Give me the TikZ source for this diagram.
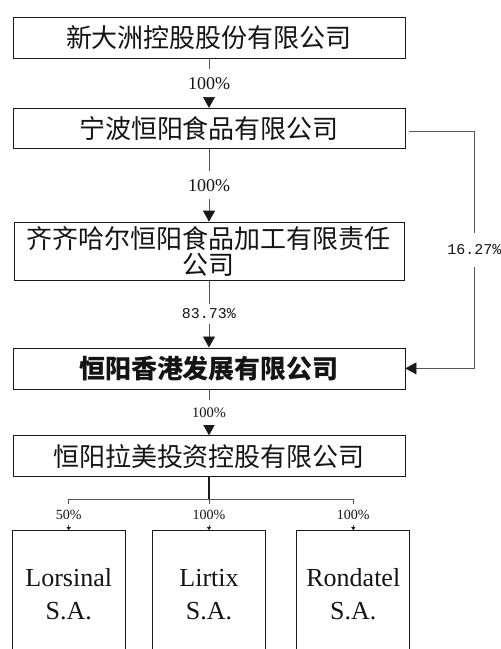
\documentclass[tikz,border=0pt]{standalone}
\usepackage{fontspec}
\setmainfont{Liberation Serif}
\setmonofont{Liberation Mono}
\newfontfamily\cjk{Noto Sans CJK SC}
\usetikzlibrary{positioning,arrows.meta}
\definecolor{colorbox}  {RGB}{25,25,25}
\definecolor{colorline} {RGB}{85,85,85}
\definecolor{colortext} {RGB}{20,20,20}

\begin{document}
\begin{tikzpicture}[
    node distance = 2em,
    base/.style={draw=colorbox,line width=0.8pt,text=colortext,inner sep=0pt,align=center,rectangle},
    company/.style={base,minimum width=392pt,minimum height=41pt,font={\cjk\fontsize{26}{26}\selectfont}},
    firm/.style={base,minimum width=113pt,minimum height=128pt,font={\fontsize{26}{33}\selectfont}},
    pct/.style={fill=white,text=colortext,inner xsep=1pt,inner ysep=8pt,font={\fontsize{18}{18}\selectfont}},
    pctsmall/.style={pct,inner ysep=6pt,font={\fontsize{14}{14}\selectfont}},
    pctmono/.style={pct,inner ysep=5pt,font={\ttfamily\fontsize{15}{15}\selectfont}},
    link/.style={draw=colorline,line width=0.8pt,-{Triangle[width=12pt,length=11pt,color=colorbox]}},
    sublink/.style={draw=colorline,line width=0.8pt,-{Triangle[width=4pt,length=3pt,color=colorbox]}},
]
    \useasboundingbox (0,0) rectangle (501pt,-649pt);
    \clip (0,0) rectangle (501pt,-649pt);

    % Nodes
    \node[company] (xdz) at (209pt,-37.5pt) {新大洲控股股份有限公司};
    \node[company,minimum height=40pt,below=49.5pt of xdz] (nbhy) {宁波恒阳食品有限公司};
    \node[company,minimum width=390pt,minimum height=58pt,below=73pt of nbhy] (qqhe) {齐齐哈尔恒阳食品加工有限责任\\公司};
    \node[company,font={\cjk\bfseries\fontsize{26}{26}\selectfont},below=67pt of qqhe] (hyxg) {恒阳香港发展有限公司};
    \node[company,below=46pt of hyxg] (hylm) {恒阳拉美投资控股有限公司};
    \node[firm,below=53pt of hylm]      (lirtix)   {Lirtix\\S.A.};
    \node[firm,left=26.5pt of lirtix]   (lorsinal) {Lorsinal\\S.A.};
    \node[firm,right=30.5pt of lirtix]  (rondatel) {Rondatel\\S.A.};

    % Coordinates
    \coordinate[below=22pt of hylm] (fork);

    % Arrows
    \draw[link] (xdz)  -- node[pct]{100\%} (nbhy);
    \draw[link] (nbhy) -- node[pct]{100\%} (qqhe);
    \draw[link] (qqhe) -- node[pctmono]{83.73\%} (hyxg);
    \draw[link] (hyxg) -- node[pctsmall,inner ysep=7.5pt,font={\fontsize{14.5}{14.5}\selectfont}]{100\%} (hylm);
    \draw[link] ([xshift=4pt,yshift=-3pt]nbhy.east) -- ++(65pt,0) coordinate (bend)
        -- node[pctmono,inner ysep=12pt]{16.27\%} (bend |- hyxg.east) -- (hyxg.east);

    \draw[draw=colorbox,line width=1.6pt] (hylm) -- (fork);
    \draw[draw=colorline,line width=0.8pt] (lorsinal |- fork) -- (rondatel |- fork);
    \draw[sublink] (lorsinal |- fork) -- node[pctsmall]{50\%}  (lorsinal);
    \draw[sublink] (lirtix |- fork)   -- node[pctsmall]{100\%} (lirtix);
    \draw[sublink] (rondatel |- fork) -- node[pctsmall]{100\%} (rondatel);

\end{tikzpicture}
\end{document}
